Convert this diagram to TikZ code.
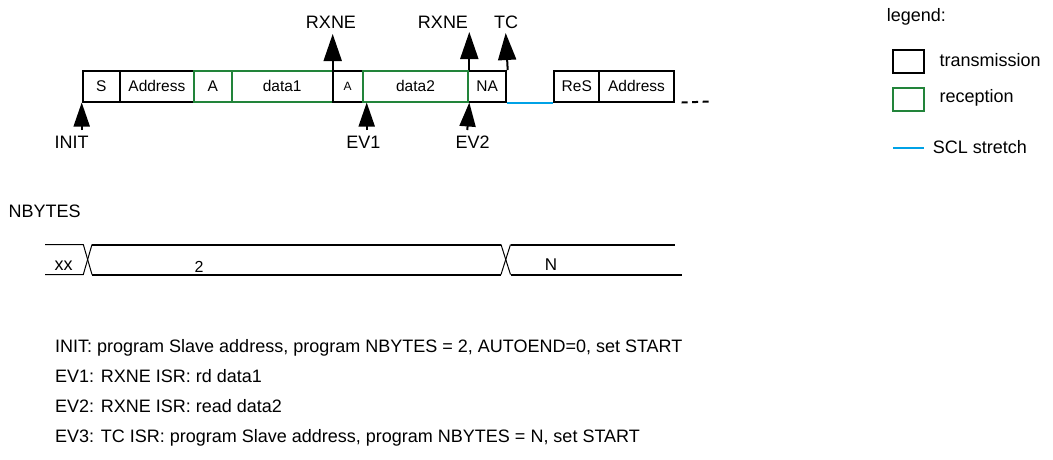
\documentclass[tikz,border=0pt]{standalone}
\usepackage{fontspec}
\setmainfont{Liberation Sans}
\usetikzlibrary{arrows.meta}
\definecolor{recgreen}{RGB}{34,132,58}
\definecolor{sclblue}{RGB}{0,162,230}
\newcommand{\lblfont}{\fontsize{18}{21}\selectfont}
\newcommand{\boxfont}{\fontsize{15.5}{18}\selectfont}
\newcommand{\smallboxfont}{\fontsize{12}{14}\selectfont}
\tikzset{
  tx/.style={draw=black, line width=2pt, minimum height=30.5pt, inner sep=0pt, anchor=west, font=\boxfont},
  rx/.style={tx, draw=recgreen},
  lbl/.style={font=\lblfont, inner sep=0pt, anchor=base},
  txt/.style={font=\lblfont, inner sep=0pt, anchor=base west},
  evup/.style={line width=2pt, -{Triangle[length=27pt,width=18pt]}},
  evlow/.style={line width=2pt, -{Triangle[length=24pt,width=16pt]}},
  thinline/.style={line width=1pt},
  thickline/.style={line width=2pt},
}
\begin{document}
\begin{tikzpicture}[x=1pt,y=-1pt]
\useasboundingbox (0,0) rectangle (1053,459);
% frame
\node[tx, minimum width=37.3pt] (S) at (81.7,86.25) {S};
\node[tx, minimum width=73.7pt] (Ad1) at (119,86.25) {Address};
\node[rx, minimum width=38pt] (A1) at (192.7,86.25) {A};
\node[rx, minimum width=101pt] (D1) at (230.7,86.25) {data1};
\node[tx, minimum width=30pt, font=\smallboxfont] (A2) at (331.7,86.25) {A};
\node[tx, minimum width=37.7pt] (NA) at (467.3,86.25) {NA};
\node[rx, minimum width=105.6pt] (D2) at (361.7,86.25) {data2};
\node[tx, minimum width=45pt] (ReS) at (553.3,86.25) {ReS};
\node[tx, minimum width=74.4pt] (Ad2) at (598.3,86.25) {Address};
\draw[sclblue, line width=2pt] (NA.south east) -- (ReS.south west);
\coordinate (dotsEnd) at (710,101.5);
\draw[thickline, dash pattern=on 6pt off 4.5pt] ([xshift=7pt]Ad2.south east) -- (dotsEnd);
% upper events
\node[lbl] (rxne1) at (331,28.8) {RXNE};
\node[lbl] (rxne2) at (443,28.8) {RXNE};
\node[lbl] (tc) at (506,28.8) {TC};
\coordinate (rxne1Tip) at (332.7,34);
\coordinate (rxne2Tip) at (469.3,32);
\coordinate (tcTip) at (505.7,33);
\draw[evup] ([xshift=1pt]A2.north west) -- (rxne1Tip);
\draw[evup] ([xshift=2pt]NA.north west) -- (rxne2Tip);
\draw[evup] ([xshift=0.7pt]NA.north east) -- (tcTip);
% lower events
\node[lbl] (init) at (71.7,148) {INIT};
\node[lbl] (ev1) at (363.3,148) {EV1};
\node[lbl] (ev2) at (472.7,148) {EV2};
\coordinate (initTail) at (81.7,130);
\coordinate (ev1Tail) at (366.7,130);
\coordinate (ev2Tail) at (467.3,130);
\draw[evlow] (initTail) -- (S.south west);
\draw[evlow] (ev1Tail) -- ([xshift=5pt]D2.south west);
\draw[evlow] (ev2Tail) -- (D2.south east);
% legend
\node[txt] (leg) at (886.7,21.5) {legend:};
\node[draw=black, line width=2pt, minimum width=30.7pt, minimum height=22.7pt, inner sep=0pt] (lgT) at (908.7,61.3) {};
\node[draw=recgreen, line width=2pt, minimum width=30.7pt, minimum height=22.7pt, inner sep=0pt] (lgR) at (908.7,99.2) {};
\node[txt] (lgTt) at (939.3,66) {transmission};
\node[txt] (lgRt) at (939.3,102.5) {reception};
\coordinate (lgB1) at (893.3,148.3);
\coordinate (lgB2) at (924,148.3);
\draw[sclblue, line width=2pt] (lgB1) -- (lgB2);
\node[txt] (lgBt) at (932.7,153.3) {SCL stretch};
% NBYTES
\node[txt] (nb) at (8.5,217) {NBYTES};
\coordinate (x0t) at (45,244.5);
\coordinate (x0b) at (45,274.5);
\coordinate (c1l) at (83.3,244.5);
\coordinate (c1lb) at (83.3,274.5);
\coordinate (c1r) at (92,244.5);
\coordinate (c1rb) at (92,274.5);
\coordinate (c2l) at (501,244.5);
\coordinate (c2lb) at (501,274.5);
\coordinate (c2r) at (510.5,244.5);
\coordinate (c2rb) at (510.5,274.5);
\coordinate (endT) at (675,244.5);
\coordinate (endB) at (681.7,274.5);
\draw[thinline] (x0t) -- (c1l) -- (c1rb);
\draw[thinline] (x0b) -- (c1lb) -- (c1r);
\draw[thickline] (c1r) -- (c2l);
\draw[thickline] (c1rb) -- (c2lb);
\draw[thinline] (c2l) -- (c2rb);
\draw[thinline] (c2lb) -- (c2r);
\draw[thickline] (c2r) -- (endT);
\draw[thickline] (c2rb) -- (endB);
\node[lbl] (xx) at (63.5,270) {xx};
\node[lbl, font=\fontsize{16}{20}\selectfont] (two) at (199,272) {2};
\node[lbl, font=\fontsize{17}{20}\selectfont] (nn) at (551,270) {N};
% descriptions
\node[txt] (d1) at (55,352.5) {INIT: program Slave address, program NBYTES = 2, AUTOEND=0, set START};
\node[txt] (d2) at (55,382.5) {EV1: RXNE ISR: rd data1};
\node[txt] (d3) at (55,412.5) {EV2: RXNE ISR: read data2};
\node[txt] (d4) at (55,442.5) {EV3: TC ISR: program Slave address, program NBYTES = N, set START};
\end{tikzpicture}
\end{document}
